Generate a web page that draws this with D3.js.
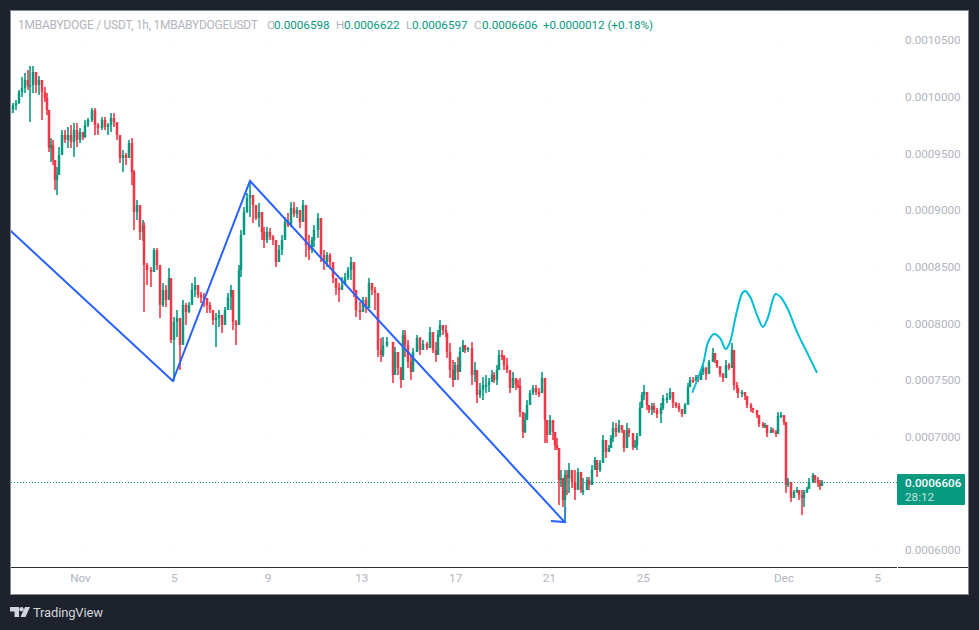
<!DOCTYPE html>
<html>
<head>
<meta charset="utf-8">
<script src="https://cdn.jsdelivr.net/npm/d3@7"></script>
<style>
  html, body { margin: 0; padding: 0; background: #1e222d; }
  svg { display: block; font-family: Roboto, sans-serif; }
</style>
</head>
<body>
<svg id="chart" width="979" height="630"></svg>
<script>
// prices are kept in units of 0.0000001, hours are counted from Oct 29 00:00
const priceUnit = 1e7;
const hours = [0,3,6,10,13,16,19,21,24,27,30,33,36,38,40,42,44,46,48,50,54,57,60,63,66,69,72,75,77,80,84,87,90,95,98,101,104,107,110,113,116,119,122,125,127,130,133,136,138,141,145,148,151,154,157,160,163,165,168,171,174,177,181,184,187,190,193,196,199,202,205,208,211,214,217,220,223,227,229,232,235,237,240,243,246,249,252,255,258,260,263,266,270,273,276,279,282,285,288,291,294,297,300,303,306,309,312,316,319,322,325,328,331,334,337,340,343,346,349,352,355,359,362,365,368,371,374,377,380,382,386,392,394,398,401,403,405,408,411,413,417,420,423,427,430,433,436,438,441,444,447,448,451,454,456,459,461,464,466,469,473,476,478,481,484,488,491,494,496,499,501,504,506,509,512,515,518,520,522,525,528,530,533,536,539,542,545,548,550,553,556,558,560,562,564,566,568,570,573,576,579,582,585,587,591,593,596,599,601,604,607,610,613,616,618,621,624,627,629,632,634,638,640,642,645,647,649,652,654,657,660,663,667,669,673,676,679,682,685,688,691,694,696,699,703,705,708,710,713,716,720,722,724,727,730,733,736,739,741,744,746,750,753,755,759,761,765,767,771,773,775,779,781,784,786,790,793,795,797,800,803,806,808,811,813,816,818,822,824,827,829,831];
const highs = [9980,9953,9980,10068,10183,10218,10244,10280,10280,10200,10191,10095,10095,10041,9874,9644,9627,9450,9388,9565,9715,9715,9741,9759,9777,9777,9733,9671,9803,9821,9909,9909,9777,9830,9830,9777,9865,9865,9777,9644,9538,9512,9627,9644,9362,9097,9053,8921,8903,8541,8506,8674,8674,8418,8365,8347,8497,8330,8065,8127,7950,8215,8188,8197,8365,8418,8330,8285,8277,8215,8197,8127,8100,8127,8038,8153,8277,8347,8153,8038,8524,8833,9035,9159,9247,9097,9035,9071,8894,8859,8859,8850,8788,8656,8700,8788,8947,8982,9080,9080,9035,9009,9097,8965,8788,8771,8877,8982,8744,8656,8638,8630,8506,8374,8365,8418,8453,8506,8594,8541,8241,8197,8241,8241,8409,8347,8330,8215,7880,7888,7888,7774,7800,7747,7624,7950,7950,7862,7730,7791,7906,7888,7862,7844,7977,7844,7844,7950,8038,7994,7994,7844,7835,7685,7668,7712,7800,7862,7818,7800,7844,7668,7527,7482,7535,7553,7527,7597,7580,7641,7774,7774,7730,7703,7535,7580,7527,7509,7527,7156,7218,7332,7421,7465,7465,7438,7580,7482,7129,7200,7156,7041,6997,6891,6715,6565,6715,6715,6777,6653,6715,6732,6609,6644,6653,6653,6759,6830,6785,6803,7024,6962,6935,7024,7138,7129,7156,7094,6997,7129,7085,6979,6979,7041,7315,7403,7465,7332,7288,7306,7306,7262,7306,7377,7394,7438,7377,7315,7306,7244,7306,7482,7535,7535,7553,7553,7597,7641,7624,7685,7791,7712,7668,7597,7571,7685,7659,7835,7756,7491,7438,7421,7394,7306,7306,7262,7227,7174,7138,7129,7094,7094,7085,7068,7227,7227,7182,7138,6644,6512,6538,6565,6538,6538,6538,6565,6644,6688,6653,6653,6626,6626];
const lows = [9821,9865,9891,9944,10006,10041,10068,9786,10041,10041,10024,9803,9962,9847,9521,9433,9406,9186,9141,9362,9512,9600,9556,9556,9477,9565,9600,9627,9644,9741,9786,9671,9671,9715,9715,9671,9697,9741,9627,9424,9344,9406,9477,9230,8833,8921,8744,8735,8109,8347,8330,8541,8480,8056,8153,8153,8232,7835,7500,7888,7597,8012,7994,8100,8188,8241,8232,8188,8153,8100,8100,7994,7800,7977,7924,8012,8127,8127,7950,7818,8188,8418,8859,8982,8947,8894,8921,8859,8744,8674,8718,8744,8700,8506,8568,8612,8744,8859,8859,8947,8938,8850,8982,8594,8568,8630,8682,8762,8550,8480,8506,8506,8365,8259,8197,8330,8365,8391,8391,8241,8065,8038,8153,8100,8232,8259,8127,7712,7668,7712,7800,7482,7615,7553,7438,7703,7712,7615,7509,7685,7800,7730,7791,7774,7791,7747,7668,7835,7888,7906,7888,7703,7527,7447,7509,7509,7624,7756,7747,7756,7465,7491,7306,7350,7332,7394,7403,7509,7482,7465,7597,7685,7597,7571,7394,7447,7421,7438,7182,6997,7041,7218,7315,7377,7377,7359,7421,6953,6953,7041,6979,6891,6891,6406,6565,6388,6256,6494,6512,6556,6450,6644,6512,6494,6538,6538,6600,6715,6653,6697,6891,6821,6874,6953,6962,7006,7041,7041,6874,6918,7006,6891,6909,6891,7094,7271,7332,7244,7218,7200,7218,7174,7129,7244,7306,7332,7262,7262,7227,7182,7227,7315,7465,7482,7509,7491,7527,7553,7509,7615,7668,7659,7615,7535,7491,7571,7597,7624,7421,7394,7350,7359,7332,7262,7227,7218,7174,7094,7085,7085,7006,7050,7041,7006,7094,7174,7112,6512,6565,6432,6476,6512,6450,6318,6388,6512,6565,6600,6600,6565,6538,6600];
const closes = [9891,9936,9953,10050,10085,10156,10103,10112,10227,10112,10156,10050,9997,9891,9556,9583,9450,9274,9318,9494,9671,9627,9671,9609,9715,9627,9697,9653,9759,9803,9891,9759,9733,9803,9741,9759,9821,9785,9671,9468,9494,9468,9600,9344,8991,9053,8815,8877,8524,8480,8462,8656,8524,8171,8303,8215,8409,7862,8021,8056,7818,8171,8109,8171,8303,8347,8259,8241,8232,8171,8127,8038,8056,8083,7994,8127,8241,8303,8021,7994,8480,8788,8991,9115,9141,9053,8938,8991,8815,8744,8815,8771,8744,8550,8656,8744,8903,8877,9027,8974,9009,8903,9053,8700,8656,8744,8833,8938,8612,8550,8612,8550,8409,8321,8303,8347,8409,8480,8550,8303,8127,8109,8215,8144,8365,8303,8277,7774,7730,7818,7844,7553,7756,7615,7509,7906,7818,7668,7580,7756,7880,7774,7827,7791,7932,7774,7730,7906,7994,7950,7924,7756,7597,7509,7641,7580,7756,7818,7774,7791,7553,7597,7377,7421,7465,7465,7491,7553,7509,7597,7730,7721,7641,7597,7438,7527,7465,7456,7227,7050,7156,7288,7394,7438,7403,7394,7527,7156,7024,7156,7050,6935,6909,6626,6644,6450,6671,6644,6715,6609,6538,6697,6538,6538,6626,6582,6715,6803,6715,6777,6979,6874,6909,6997,7085,7050,7112,7068,6909,7068,7041,6918,6935,7015,7262,7377,7403,7288,7244,7279,7244,7209,7262,7350,7350,7403,7306,7279,7253,7209,7288,7447,7509,7500,7535,7509,7580,7615,7562,7668,7747,7685,7632,7562,7527,7641,7615,7774,7465,7438,7394,7403,7368,7288,7262,7244,7200,7121,7103,7112,7041,7068,7050,7032,7191,7200,7138,6582,6609,6468,6521,6538,6494,6468,6521,6547,6609,6671,6626,6600,6574,6606];
const firstOpen = 9850;

const lastPrice = 6606;
const priceTicks = [10500,10000,9500,9000,8500,8000,7500,7000,6000];
const timeTicks = [72,168,264,360,456,552,648,792,888];
const timeLabels = ['Nov','5','9','13','17','21','25','Dec','5'];

// drawings on top of the candles
const blueHours = [0,167,246,568,554];
const bluePrices = [8833,7500,9265,6256,6265];
const arrowHours = [568,569];
const arrowPrices = [6256,6388];
const cyanHours = [699,710,715,721,727,733,737,744,750,753,758,765,771,776,784,789,796,806,816,826];
const cyanPrices = [7403,7659,7844,7915,7880,7782,7835,8100,8277,8294,8241,8082,7977,8056,8268,8241,8144,7932,7756,7579];

const headerTitle = '1MBABYDOGE / USDT, 1h, 1MBABYDOGEUSDT';
const headerLetters = ['O','H','L','C'];
const headerValues = ['0.0006598','0.0006622','0.0006597','0.0006606'];
const headerChange = '+0.0000012 (+0.18%)';

const upColor = '#089981';
const downColor = '#f23645';
const textGray = '#b2b5be';
const labelSize = '11.7px';

let svg = d3.select('#chart');

// white panel with grey frame
svg.append('rect')
    .attr('x', 10.5)
    .attr('y', 10.5)
    .attr('width', 958)
    .attr('height', 584)
    .attr('fill', '#ffffff')
    .attr('stroke', '#868993')
    .attr('stroke-width', 1);

let xScale = d3.scaleLinear().domain([0, 831]).range([9.66, 821.5]);
let yScale = d3.scaleLinear().domain([6000, 10500]).range([551, 41]);

svg.append('defs').append('clipPath')
    .attr('id', 'plot')
    .append('rect')
    .attr('x', 11)
    .attr('y', 11)
    .attr('width', 886)
    .attr('height', 556);

// faint grid
svg.append('g').selectAll('line')
    .data(priceTicks)
    .enter()
    .append('line')
    .attr('x1', 11)
    .attr('x2', 897)
    .attr('y1', d => Math.round(yScale(d)) + 0.5)
    .attr('y2', d => Math.round(yScale(d)) + 0.5)
    .attr('stroke', '#fbfcfe');
svg.append('g').selectAll('line')
    .data(timeTicks)
    .enter()
    .append('line')
    .attr('x1', d => Math.round(xScale(d)) + 0.5)
    .attr('x2', d => Math.round(xScale(d)) + 0.5)
    .attr('y1', 11)
    .attr('y2', 567)
    .attr('stroke', '#fbfcfe');

// axes
let xAxis = d3.axisBottom(xScale)
    .tickValues(timeTicks)
    .tickFormat((d, i) => timeLabels[i])
    .tickSize(0)
    .tickPadding(7);
let xAxisG = svg.append('g')
    .attr('transform', 'translate(0,567)')
    .call(xAxis);
xAxisG.select('.domain').remove();

let yAxis = d3.axisRight(yScale)
    .tickValues(priceTicks)
    .tickFormat(d => (d / priceUnit).toFixed(7))
    .tickSize(0)
    .tickPadding(0);
let yAxisG = svg.append('g')
    .attr('transform', 'translate(905,-1)')
    .call(yAxis);
yAxisG.select('.domain').remove();

svg.selectAll('.tick text')
    .attr('fill', textGray)
    .style('font-size', labelSize)
    .style('font-family', 'Roboto, sans-serif');

// time axis rule, with the small gap at the price scale
svg.append('line').attr('x1', 11).attr('x2', 897).attr('y1', 567.5).attr('y2', 567.5).attr('stroke', '#2a2e39');
svg.append('line').attr('x1', 898).attr('x2', 968).attr('y1', 567.5).attr('y2', 567.5).attr('stroke', '#2a2e39');

// last price dotted line
svg.append('line')
    .attr('x1', 11)
    .attr('x2', 897)
    .attr('y1', Math.round(yScale(lastPrice)) + 0.5)
    .attr('y2', Math.round(yScale(lastPrice)) + 0.5)
    .attr('stroke', upColor)
    .attr('stroke-dasharray', '1,2');

// candles
let opens = closes.map((c, i) => i == 0 ? firstOpen : closes[i - 1]);
let candles = svg.append('g').attr('clip-path', 'url(#plot)');

candles.selectAll('.wick')
    .data(hours)
    .enter()
    .append('line')
    .attr('class', 'wick')
    .attr('x1', d => Math.round(xScale(d)))
    .attr('x2', d => Math.round(xScale(d)))
    .attr('y1', (d, i) => yScale(highs[i]))
    .attr('y2', (d, i) => yScale(lows[i]))
    .attr('stroke', (d, i) => closes[i] >= opens[i] ? upColor : downColor)
    .attr('stroke-width', 1.6);

candles.selectAll('.body')
    .data(hours)
    .enter()
    .append('rect')
    .attr('class', 'body')
    .attr('x', d => Math.round(xScale(d)) - 1.25)
    .attr('width', 2.5)
    .attr('y', (d, i) => yScale(Math.max(opens[i], closes[i])))
    .attr('height', (d, i) => Math.max(2, Math.abs(yScale(opens[i]) - yScale(closes[i]))))
    .attr('fill', (d, i) => closes[i] >= opens[i] ? upColor : downColor);

// blue zigzag and the cyan forecast curve
let blueLine = d3.line().x(d => xScale(d[0])).y(d => yScale(d[1]));
let drawings = svg.append('g').attr('clip-path', 'url(#plot)');

drawings.append('path')
    .attr('d', blueLine(d3.zip(blueHours, bluePrices)))
    .attr('fill', 'none')
    .attr('stroke', '#2962ff')
    .attr('stroke-width', 2)
    .attr('stroke-linejoin', 'miter');

drawings.append('path')
    .attr('d', blueLine(d3.zip(arrowHours, arrowPrices)))
    .attr('fill', 'none')
    .attr('stroke', '#2962ff')
    .attr('stroke-opacity', 0.5)
    .attr('stroke-width', 2);

let cyanLine = d3.line()
    .x(d => xScale(d[0]))
    .y(d => yScale(d[1]))
    .curve(d3.curveCatmullRom);

drawings.append('path')
    .attr('d', cyanLine(d3.zip(cyanHours, cyanPrices)))
    .attr('fill', 'none')
    .attr('stroke', '#00bcd4')
    .attr('stroke-width', 2)
    .attr('stroke-linecap', 'round');

// last price tag
svg.append('rect')
    .attr('x', 897)
    .attr('y', 474)
    .attr('width', 68)
    .attr('height', 31)
    .attr('rx', 1)
    .attr('fill', upColor);
svg.append('text')
    .attr('x', 905)
    .attr('y', 487)
    .attr('fill', '#ffffff')
    .style('font-size', labelSize)
    .style('font-weight', 500)
    .text((lastPrice / priceUnit).toFixed(7));
svg.append('text')
    .attr('x', 905)
    .attr('y', 501)
    .attr('fill', '#ffffff')
    .attr('fill-opacity', 0.75)
    .style('font-size', labelSize)
    .text('28:12');

// header legend
svg.append('text')
    .attr('x', 18)
    .attr('y', 29)
    .attr('fill', textGray)
    .attr('textLength', 240)
    .style('font-size', '12px')
    .text(headerTitle);

let letterX = d3.scaleOrdinal().domain(headerLetters).range([267, 336, 406, 474]);
let valueX = d3.scaleOrdinal().domain(headerLetters).range([274, 344, 412, 482]);

headerLetters.forEach((letter, i) => {
    svg.append('text')
        .attr('x', letterX(letter))
        .attr('y', 29)
        .attr('fill', textGray)
        .style('font-size', labelSize)
        .text(letter);
    svg.append('text')
        .attr('x', valueX(letter))
        .attr('y', 29)
        .attr('fill', upColor)
        .style('font-size', labelSize)
        .text(headerValues[i]);
});
svg.append('text')
    .attr('x', 543)
    .attr('y', 29)
    .attr('fill', upColor)
    .attr('textLength', 110)
    .style('font-size', labelSize)
    .text(headerChange);

// TradingView mark
let logo = svg.append('g').attr('transform', 'translate(10,607)').attr('fill', '#d1d4dc');
logo.append('path').attr('d', 'M0 0H9V10H4.5V4.5H0Z');
logo.append('circle').attr('cx', 11.5).attr('cy', 2.2).attr('r', 2.2);
logo.append('path').attr('d', 'M15 0H20L15.5 10H10.5Z');
svg.append('text')
    .attr('x', 33)
    .attr('y', 617)
    .attr('fill', '#d1d4dc')
    .attr('textLength', 70)
    .style('font-size', '13px')
    .text('TradingView');
</script>
</body>
</html>
